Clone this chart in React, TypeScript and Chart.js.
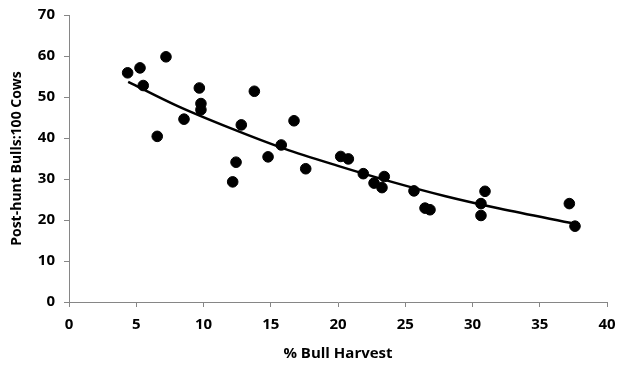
import React, { useEffect, useRef } from "react";
import { Chart, registerables } from "chart.js";

Chart.register(...registerables);

// % Bull Harvest (x) and Post-hunt Bulls:100 Cows (y)
const harvestPct = [
  4.36, 5.28, 5.52, 7.21, 6.56, 8.55, 9.69, 9.81, 9.81, 12.81, 13.78, 12.42, 12.17, 14.8, 15.78,
  16.73, 17.6, 20.2, 20.77, 21.88, 22.68, 23.44, 23.27, 25.65, 26.47, 26.84,
  30.93, 30.63, 30.63, 37.2, 37.62,
];
const bullsPer100 = [
  55.9, 57.1, 52.8, 59.8, 40.4, 44.6, 52.2, 48.4, 46.9, 43.2, 51.4, 34.1, 29.3, 35.4, 38.3,
  44.2, 32.5, 35.5, 34.9, 31.3, 29.0, 30.6, 27.9, 27.1, 22.9, 22.5,
  27.0, 24.0, 21.1, 24.0, 18.5,
];

// Trendline
const trendX = [4.4, 8, 12, 16, 20, 24, 28, 32, 37.6];
const trendY = [53.7, 47.9, 42.4, 37.4, 33.2, 29.3, 25.8, 22.8, 19.1];

const xTicks = [0, 5, 10, 15, 20, 25, 30, 35, 40];
const yTicks = [0, 10, 20, 30, 40, 50, 60, 70];

const FONT = "'Open Sans', 'Noto Sans', sans-serif";
const AXIS_GREY = "#868686";

export default function App() {
  const ref = useRef<HTMLCanvasElement | null>(null);

  useEffect(() => {
    document.body.style.margin = "0";
    const ctx = ref.current;
    if (!ctx) return;
    const chart = new Chart(ctx, {
      type: "scatter",
      data: {
        datasets: [
          {
            label: "Observed",
            data: harvestPct.map((x, i) => ({ x, y: bullsPer100[i] })),
            backgroundColor: "#000000",
            borderColor: "#000000",
            pointRadius: 5.3,
            pointHoverRadius: 5.3,
            showLine: false,
          },
          {
            label: "Trend",
            data: trendX.map((x, i) => ({ x, y: trendY[i] })),
            borderColor: "#000000",
            borderWidth: 2.5,
            pointRadius: 0,
            showLine: true,
            cubicInterpolationMode: "monotone",
          } as any,
        ],
      },
      options: {
        animation: false,
        responsive: false,
        maintainAspectRatio: false,
        layout: { padding: { left: 0, right: 11, top: 15, bottom: 0 } },
        plugins: { legend: { display: false }, tooltip: { enabled: false } },
        scales: {
          x: {
            type: "linear",
            min: 0,
            max: 40,
            afterBuildTicks: (s: any) => {
              s.ticks = xTicks.map((v) => ({ value: v }));
            },
            afterFit: (s: any) => {
              s.height = 63;
              s.paddingRight = 0;
              s.paddingLeft = 0;
            },
            border: { color: AXIS_GREY, width: 1 },
            grid: { display: true, drawOnChartArea: false, drawTicks: true, tickLength: 5, color: AXIS_GREY },
            ticks: { color: "#000", font: { family: FONT, size: 15, weight: "bold" }, padding: 9, maxRotation: 0 },
            title: {
              display: true,
              text: "% Bull Harvest",
              color: "#000",
              font: { family: FONT, size: 15, weight: "bold" },
              padding: { top: 0, bottom: 2 },
            },
          },
          y: {
            type: "linear",
            min: 0,
            max: 70,
            afterBuildTicks: (s: any) => {
              s.ticks = yTicks.map((v) => ({ value: v }));
            },
            afterFit: (s: any) => {
              s.width = 69;
              s.paddingTop = 0;
              s.paddingBottom = 0;
            },
            border: { color: AXIS_GREY, width: 1 },
            grid: { display: true, drawOnChartArea: false, drawTicks: true, tickLength: 5, color: AXIS_GREY },
            ticks: { color: "#000", font: { family: FONT, size: 15, weight: "bold" }, padding: 9 },
            title: {
              display: true,
              text: "Post-hunt Bulls:100 Cows",
              color: "#000",
              font: { family: FONT, size: 14, weight: "bold" },
              padding: { top: 9, bottom: 0 },
            },
          },
        },
      },
    });
    return () => chart.destroy();
  }, []);

  return (
    <div style={{ width: 618, height: 365, background: "#fff" }}>
      <canvas ref={ref} width={618} height={365} style={{ display: "block" }} />
    </div>
  );
}
